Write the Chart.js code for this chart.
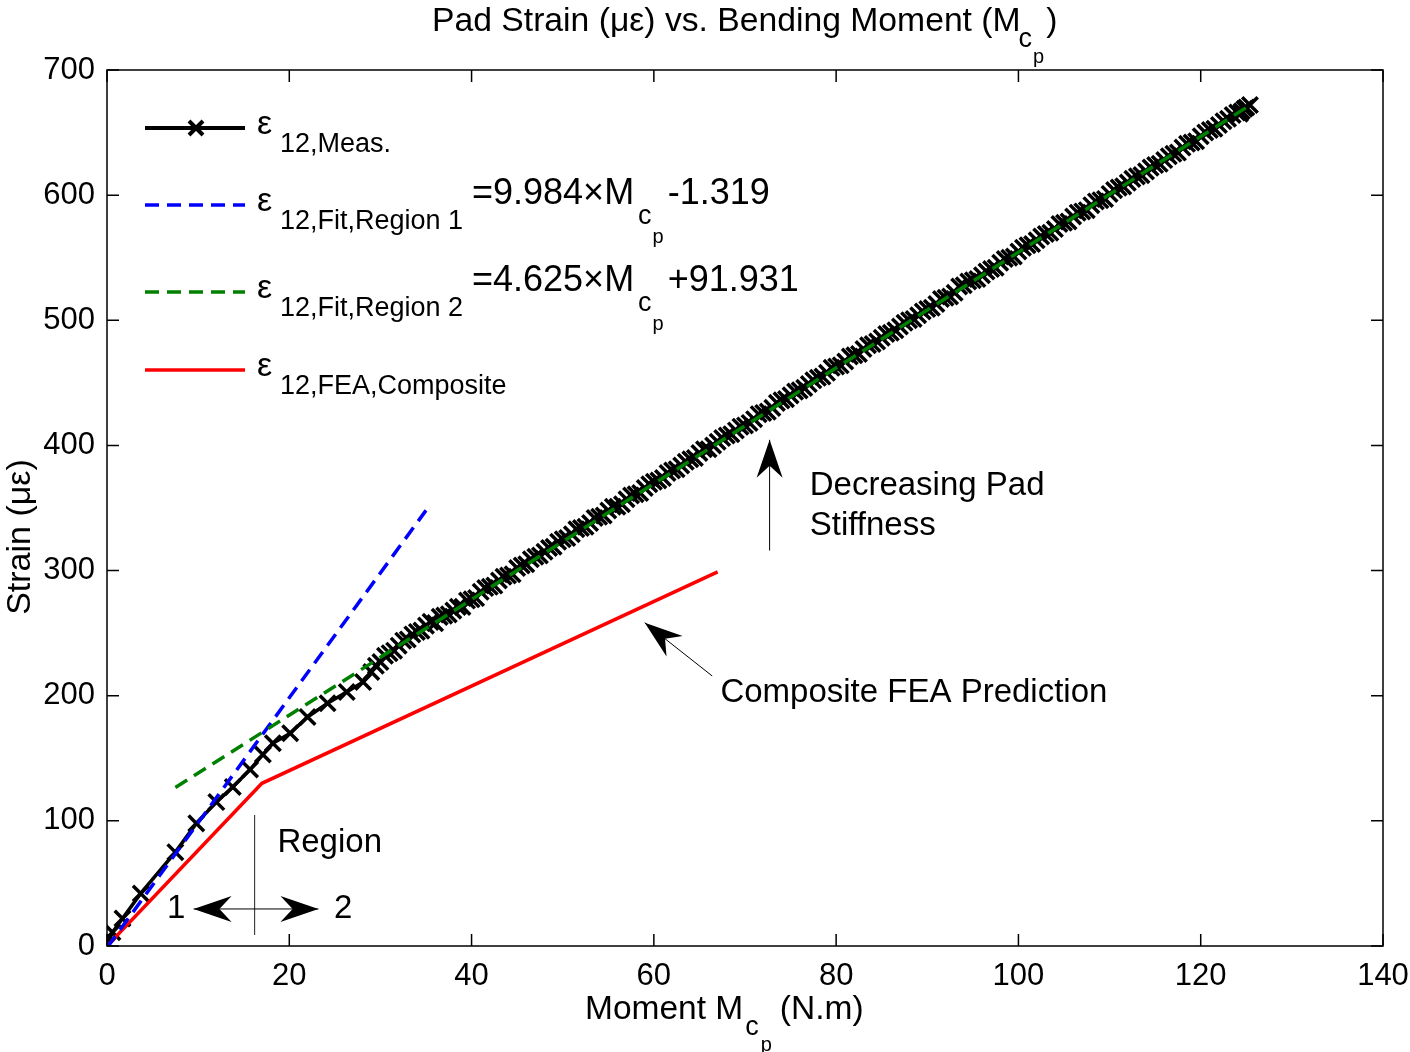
<!DOCTYPE html>
<html>
<head>
<meta charset="utf-8">
<script src="https://cdn.jsdelivr.net/npm/chart.js@4.4.1/dist/chart.umd.min.js"></script>
<style>
  html, body { margin: 0; padding: 0; background: #fff; }
  #wrap { width: 1410px; height: 1052px; position: relative; }
</style>
</head>
<body>
<div id="wrap"><canvas id="strainChart"></canvas></div>
<script>
// measured strain (x = moment N.m, y = strain µε)
const measX = [0, 0.6, 1.7, 3.7, 7.5, 9.8, 12.0, 13.8, 15.7, 17.1, 18.2, 20.1, 22.0, 24.2, 26.3, 28.1,
  29, 29.5, 30, 30.5, 31, 31.5, 32, 32.5, 33, 33.5, 34, 34.5, 35, 35.5, 36, 36.5, 37, 37.5, 38, 38.5, 39, 39.5,
  40, 40.5, 41, 41.5, 42, 42.5, 43, 43.5, 44, 44.5, 45, 45.5, 46, 46.5, 47, 47.5, 48, 48.5, 49, 49.5,
  50, 50.5, 51, 51.5, 52, 52.5, 53, 53.5, 54, 54.5, 55, 55.5, 56, 56.5, 57, 57.5, 58, 58.5, 59, 59.5,
  60, 60.5, 61, 61.5, 62, 62.5, 63, 63.5, 64, 64.5, 65, 65.5, 66, 66.5, 67, 67.5, 68, 68.5, 69, 69.5,
  70, 70.5, 71, 71.5, 72, 72.5, 73, 73.5, 74, 74.5, 75, 75.5, 76, 76.5, 77, 77.5, 78, 78.5, 79, 79.5,
  80, 80.5, 81, 81.5, 82, 82.5, 83, 83.5, 84, 84.5, 85, 85.5, 86, 86.5, 87, 87.5, 88, 88.5, 89, 89.5,
  90, 90.5, 91, 91.5, 92, 92.5, 93, 93.5, 94, 94.5, 95, 95.5, 96, 96.5, 97, 97.5, 98, 98.5, 99, 99.5,
  100, 100.5, 101, 101.5, 102, 102.5, 103, 103.5, 104, 104.5, 105, 105.5, 106, 106.5, 107, 107.5, 108, 108.5, 109, 109.5,
  110, 110.5, 111, 111.5, 112, 112.5, 113, 113.5, 114, 114.5, 115, 115.5, 116, 116.5, 117, 117.5, 118, 118.5, 119, 119.5,
  120, 120.5, 121, 121.5, 122, 122.5, 123, 123.5, 124, 124.5, 125,
  124.3, 125.4, 124.8];
const measY = [0, 11, 22, 42, 75, 98, 115, 127, 141, 153, 162, 170, 183, 194, 203, 211,
  219, 224, 227, 232, 234, 236, 240, 244, 245, 249, 251, 252, 256, 259, 258, 263, 264, 265, 268, 271, 271, 276,
  277, 278, 283, 286, 287, 288, 292, 295, 296, 297, 302, 304, 305, 309, 311, 312, 315, 318, 319, 323,
  325, 326, 329, 333, 334, 335, 338, 342, 343, 344, 348, 351, 351, 353, 357, 360, 361, 362, 366, 369,
  371, 372, 374, 378, 380, 381, 384, 387, 389, 390, 394, 397, 397, 400, 403, 406, 408, 409, 412, 415,
  416, 418, 421, 425, 426, 427, 430, 434, 436, 437, 440, 443, 444, 446, 449, 452, 454, 455, 458, 462,
  463, 464, 467, 471, 472, 473, 477, 480, 481, 483, 486, 489, 490, 492, 495, 498, 500, 501, 504, 507,
  509, 510, 513, 517, 518, 519, 522, 527, 528, 531, 532, 533, 536, 539, 541, 542, 546, 549, 550, 551,
  555, 558, 560, 561, 564, 567, 569, 570, 573, 577, 578, 579, 583, 586, 587, 588, 592, 595, 596, 597,
  601, 604, 606, 607, 610, 613, 615, 616, 619, 622, 624, 625, 628, 631, 633, 634, 638, 641, 642, 643,
  647, 650, 652, 653, 656, 659, 661, 664, 666, 667, 670,
  665, 672, 669];

// linear fits, end points as drawn
const fit1X = [0, 35];
const fit1Y = [-1.319, 348.1];
const fit2X = [7.5, 125];
const fit2Y = [126.6, 670.0];

// composite FEA prediction
const feaX = [0, 17, 67];
const feaY = [0, 130, 299];

const xTicks = [0, 20, 40, 60, 80, 100, 120, 140];
const yTicks = [0, 100, 200, 300, 400, 500, 600, 700];

const FONT = '"Liberation Sans", Arial, sans-serif';
const f = px => px + 'px ' + FONT;

function pts(xs, ys) {
  return xs.map((x, i) => ({ x: x, y: ys[i] }));
}

function arrowHead(ctx, x0, y0, x1, y1, len, wid) {
  const a = Math.atan2(y1 - y0, x1 - x0);
  ctx.save();
  ctx.translate(x1, y1);
  ctx.rotate(a);
  ctx.beginPath();
  ctx.moveTo(0, 0);
  ctx.lineTo(-len, -wid / 2);
  ctx.lineTo(-len * 0.68, 0);
  ctx.lineTo(-len, wid / 2);
  ctx.closePath();
  ctx.fill();
  ctx.restore();
}

function arrow(ctx, x0, y0, x1, y1, len, wid) {
  ctx.beginPath();
  ctx.moveTo(x0, y0);
  ctx.lineTo(x1, y1);
  ctx.stroke();
  arrowHead(ctx, x0, y0, x1, y1, len, wid);
}

// draws text pieces left to right: [text, size, dy, gapAfter]
function richText(ctx, x, y, parts) {
  parts.forEach(p => {
    ctx.font = f(p[1]);
    ctx.fillText(p[0], x, y + (p[2] || 0));
    x += ctx.measureText(p[0]).width + (p[3] || 0);
  });
  return x;
}

const decorations = {
  id: 'decorations',
  afterDraw(chart) {
    const ctx = chart.ctx;
    const a = chart.chartArea;
    const xs = chart.scales.x, ys = chart.scales.y;
    const px = v => xs.getPixelForValue(v);
    const py = v => ys.getPixelForValue(v);

    ctx.save();
    ctx.fillStyle = '#000';
    ctx.strokeStyle = '#000';

    // axes box + inward ticks
    ctx.lineWidth = 1.5;
    ctx.strokeRect(a.left, a.top, a.right - a.left, a.bottom - a.top);
    ctx.beginPath();
    xTicks.forEach(t => {
      const x = px(t);
      ctx.moveTo(x, a.bottom); ctx.lineTo(x, a.bottom - 12);
      ctx.moveTo(x, a.top); ctx.lineTo(x, a.top + 12);
    });
    yTicks.forEach(t => {
      const y = py(t);
      ctx.moveTo(a.left, y); ctx.lineTo(a.left + 12, y);
      ctx.moveTo(a.right, y); ctx.lineTo(a.right - 12, y);
    });
    ctx.stroke();

    // title
    ctx.textBaseline = 'alphabetic';
    ctx.textAlign = 'left';
    let x = richText(ctx, 432, 31, [['Pad Strain (\u03bc\u03b5) vs. Bending Moment (M', 33.7]]);
    richText(ctx, x - 2, 31, [['c', 27, 16, 1], ['p', 20, 32, 2], [')', 33.7, 0]]);

    // x axis title
    x = richText(ctx, 585, 1019, [['Moment M', 33.5]]);
    richText(ctx, x + 2, 1019, [['c', 27, 16, 2], ['p', 20, 32, 8], ['(N.m)', 33.5, 0]]);

    // y axis title
    ctx.save();
    ctx.translate(30, 537);
    ctx.rotate(-Math.PI / 2);
    ctx.textAlign = 'center';
    ctx.font = f(34);
    ctx.fillText('Strain (\u03bc\u03b5)', 0, 0);
    ctx.restore();

    // legend
    const rows = [
      { y: 128, color: '#000', dash: [], marker: true, sub: '12,Meas.' },
      { y: 205, color: '#0000ff', dash: [14, 8], sub: '12,Fit,Region 1', eq: ['=9.984\u00d7M', '-1.319'] },
      { y: 292, color: '#008000', dash: [14, 8], sub: '12,Fit,Region 2', eq: ['=4.625\u00d7M', '+91.931'] },
      { y: 370, color: '#ff0000', dash: [], sub: '12,FEA,Composite' }
    ];
    rows.forEach(r => {
      ctx.save();
      ctx.strokeStyle = r.color;
      ctx.lineWidth = r.marker ? 4 : 3.5;
      ctx.setLineDash(r.dash);
      ctx.beginPath();
      ctx.moveTo(145, r.y); ctx.lineTo(245, r.y);
      ctx.stroke();
      ctx.restore();
      if (r.marker) {
        ctx.save();
        ctx.lineWidth = 4;
        ctx.beginPath();
        ctx.moveTo(189, r.y - 7); ctx.lineTo(203, r.y + 7);
        ctx.moveTo(203, r.y - 7); ctx.lineTo(189, r.y + 7);
        ctx.stroke();
        ctx.restore();
      }
      ctx.font = f(34);
      ctx.fillText('\u03b5', 257, r.y + 6);
      ctx.font = f(27);
      ctx.fillText(r.sub, 280, r.y + 24);
      if (r.eq) {
        const ey = r.y - 1;
        let ex = richText(ctx, 472, ey, [[r.eq[0], 36]]);
        ex = richText(ctx, ex + 4, ey, [['c', 27, 20, 0]]);
        richText(ctx, ex + 1, ey, [['p', 20, 39, 4], [r.eq[1], 36, 0]]);
      }
    });

    // region annotation
    ctx.lineWidth = 1;
    ctx.strokeStyle = '#222';
    ctx.beginPath();
    ctx.moveTo(px(16.2), py(104.7)); ctx.lineTo(px(16.2), py(8.8));
    ctx.stroke();
    ctx.strokeStyle = '#000';
    const ry = py(29.6);
    ctx.beginPath();
    ctx.moveTo(px(9.5), ry); ctx.lineTo(px(23.2), ry);
    ctx.stroke();
    arrowHead(ctx, px(16.2), ry, px(9.5), ry, 38, 26);
    arrowHead(ctx, px(16.2), ry, px(23.2), ry, 38, 26);
    ctx.font = f(33);
    ctx.textBaseline = 'middle';
    ctx.fillText('Region', px(18.7), py(82));
    ctx.textAlign = 'center';
    ctx.fillText('1', px(7.6), ry);
    ctx.fillText('2', px(25.9), ry);

    // stiffness annotation
    ctx.textAlign = 'left';
    arrow(ctx, px(72.7), py(316), px(72.7), py(404.5), 38, 26);
    ctx.fillText('Decreasing Pad', px(77.1), py(368));
    ctx.fillText('Stiffness', px(77.1), py(336));

    // FEA annotation
    arrow(ctx, px(66.4), py(215.8), px(59.0), py(258.3), 38, 26);
    ctx.fillText('Composite FEA Prediction', px(67.3), py(202));

    ctx.restore();
  }
};

const ctx = document.getElementById('strainChart').getContext('2d');
new Chart(ctx, {
  type: 'scatter',
  data: {
    datasets: [
      {
        label: 'fit region 2',
        data: pts(fit2X, fit2Y),
        showLine: true,
        borderColor: '#008000',
        borderWidth: 3.5,
        borderDash: [14, 8],
        pointRadius: 0,
        order: 0
      },
      {
        label: 'fit region 1',
        data: pts(fit1X, fit1Y),
        showLine: true,
        borderColor: '#0000ff',
        borderWidth: 3.5,
        borderDash: [14, 8],
        pointRadius: 0,
        order: 1
      },
      {
        label: 'FEA composite',
        data: pts(feaX, feaY),
        showLine: true,
        borderColor: '#ff0000',
        borderWidth: 3.5,
        pointRadius: 0,
        order: 2
      },
      {
        label: 'measured',
        data: pts(measX, measY),
        showLine: true,
        borderColor: '#000',
        borderWidth: 3.5,
        pointStyle: 'crossRot',
        pointRadius: 11,
        pointBorderWidth: 3.5,
        pointBorderColor: '#000',
        order: 3
      }
    ]
  },
  options: {
    responsive: true,
    maintainAspectRatio: false,
    animation: false,
    events: [],
    layout: { padding: { top: 70, right: 27, left: 0, bottom: 0 } },
    plugins: {
      legend: { display: false },
      tooltip: { enabled: false },
      title: { display: false }
    },
    scales: {
      x: {
        type: 'linear',
        min: 0,
        max: 140,
        afterBuildTicks: s => { s.ticks = xTicks.map(v => ({ value: v })); },
        afterFit: s => { s.height = 106; s.paddingLeft = 0; s.paddingRight = 0; },
        ticks: { color: '#000', font: { size: 31, family: FONT }, padding: 12, maxRotation: 0, autoSkip: false },
        grid: { display: false, drawTicks: false },
        border: { display: false }
      },
      y: {
        type: 'linear',
        min: 0,
        max: 700,
        afterBuildTicks: s => { s.ticks = yTicks.map(v => ({ value: v })); },
        afterFit: s => { s.width = 107; s.paddingTop = 0; s.paddingBottom = 0; },
        ticks: { color: '#000', font: { size: 31, family: FONT }, padding: 12, autoSkip: false },
        grid: { display: false, drawTicks: false },
        border: { display: false }
      }
    }
  },
  plugins: [decorations]
});
</script>
</body>
</html>
